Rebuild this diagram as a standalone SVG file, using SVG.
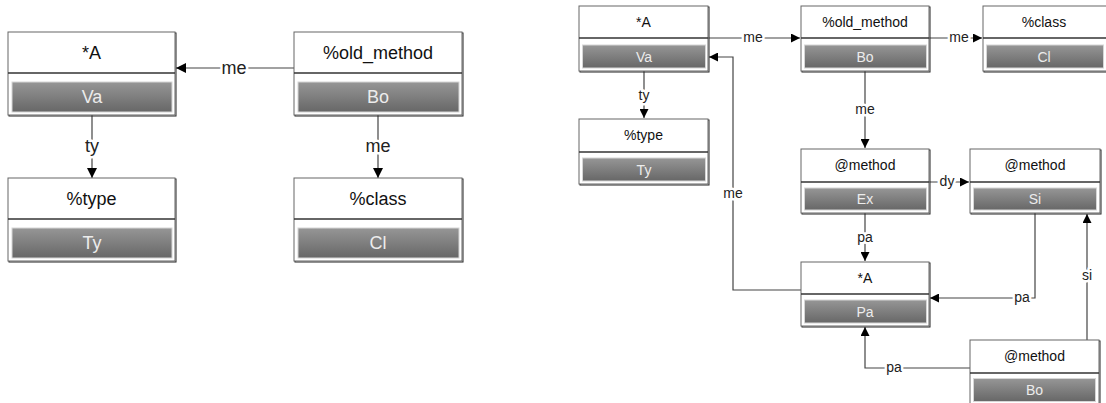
<svg xmlns="http://www.w3.org/2000/svg" width="1106" height="403" viewBox="0 0 1106 403">
<defs>
<linearGradient id="g" x1="0" y1="0" x2="0" y2="1">
<stop offset="0" stop-color="#969696"/>
<stop offset="1" stop-color="#676767"/>
</linearGradient>
<marker id="ah" viewBox="0 0 10 10" refX="10" refY="5" markerWidth="10" markerHeight="10" markerUnits="userSpaceOnUse" orient="auto">
<path d="M0,0 L10,5 L0,10 z" fill="#000"/>
</marker>
<marker id="ahs" viewBox="0 0 10 10" refX="10" refY="5" markerWidth="9" markerHeight="9" markerUnits="userSpaceOnUse" orient="auto">
<path d="M0,0 L10,5 L0,10 z" fill="#000"/>
</marker>
</defs>
<style>
.shadow{fill:none;stroke:#222;stroke-width:1}
.box{fill:#fff;stroke:#666;stroke-width:1}
.div{stroke:#333;stroke-width:1.5}
.bar{fill:url(#g);stroke:#d6d6d6;stroke-width:1}
.t{font-family:"Liberation Sans",Arial,sans-serif;fill:#111;text-anchor:middle;dominant-baseline:central}
.v{font-family:"Liberation Sans",Arial,sans-serif;fill:#ececec;text-anchor:middle;dominant-baseline:central}
.big{font-size:18px}
.sm{font-size:14px}
.c{fill:none;stroke:#444;stroke-width:1.2}
.lb{font-family:"Liberation Sans",Arial,sans-serif;fill:#222;text-anchor:middle;dominant-baseline:central;stroke:#fff;stroke-width:5;paint-order:stroke;stroke-linejoin:round}
</style>

<g id="connectors">
<path class="c" d="M294,68 H176" marker-end="url(#ah)"/>
<text class="lb big" x="234" y="68">me</text>
<path class="c" d="M92,115 V178" marker-end="url(#ah)"/>
<text class="lb big" x="92" y="146">ty</text>
<path class="c" d="M378,115 V178" marker-end="url(#ah)"/>
<text class="lb big" x="378" y="146">me</text>

<path class="c" d="M708,38 H800" marker-end="url(#ahs)"/>
<text class="lb sm" x="753" y="37">me</text>
<path class="c" d="M929,38 H982" marker-end="url(#ahs)"/>
<text class="lb sm" x="959" y="37">me</text>
<path class="c" d="M865,71 V148" marker-end="url(#ahs)"/>
<text class="lb sm" x="865" y="109">me</text>
<path class="c" d="M644,71 V118" marker-end="url(#ahs)"/>
<text class="lb sm" x="644" y="95">ty</text>
<path class="c" d="M801,290 H733 V57 H709" marker-end="url(#ahs)"/>
<text class="lb sm" x="733" y="193">me</text>
<path class="c" d="M929,182 H969" marker-end="url(#ahs)"/>
<text class="lb sm" x="947" y="181">dy</text>
<path class="c" d="M865,213 V261" marker-end="url(#ahs)"/>
<text class="lb sm" x="865" y="237">pa</text>
<path class="c" d="M1035,213 V298 H930" marker-end="url(#ahs)"/>
<text class="lb sm" x="1022" y="297">pa</text>
<path class="c" d="M970,368 H865 V327" marker-end="url(#ahs)"/>
<text class="lb sm" x="894" y="367">pa</text>
<path class="c" d="M1087,340 V214" marker-end="url(#ahs)"/>
<text class="lb sm" x="1087" y="275">si</text>
</g>

<g id="n-a-va">
<rect class="shadow" x="9" y="33" width="167" height="83"/>
<rect class="box" x="8" y="32" width="167" height="83"/>
<line class="div" x1="8" y1="73" x2="175" y2="73"/>
<rect class="bar" x="12" y="82" width="160" height="30"/>
<text class="t big" x="91.5" y="53">*A</text>
<text class="v big" x="92" y="97">Va</text>
</g>
<g id="n-old-bo">
<rect class="shadow" x="295" y="33" width="168" height="83"/>
<rect class="box" x="294" y="32" width="168" height="83"/>
<line class="div" x1="294" y1="73" x2="462" y2="73"/>
<rect class="bar" x="298" y="82" width="161" height="30"/>
<text class="t big" x="378" y="53">%old_method</text>
<text class="v big" x="378" y="97">Bo</text>
</g>
<g id="n-type-ty">
<rect class="shadow" x="9" y="179" width="167" height="83"/>
<rect class="box" x="8" y="178" width="167" height="83"/>
<line class="div" x1="8" y1="219" x2="175" y2="219"/>
<rect class="bar" x="12" y="228" width="160" height="30"/>
<text class="t big" x="91.5" y="199">%type</text>
<text class="v big" x="92" y="243">Ty</text>
</g>
<g id="n-class-cl">
<rect class="shadow" x="295" y="179" width="168" height="83"/>
<rect class="box" x="294" y="178" width="168" height="83"/>
<line class="div" x1="294" y1="219" x2="462" y2="219"/>
<rect class="bar" x="298" y="228" width="161" height="30"/>
<text class="t big" x="378" y="199">%class</text>
<text class="v big" x="378" y="243">Cl</text>
</g>

<g id="r-a-va">
<rect class="shadow" x="580" y="7" width="129" height="65"/>
<rect class="box" x="579" y="6" width="129" height="65"/>
<line class="div" x1="579" y1="38" x2="708" y2="38"/>
<rect class="bar" x="582.5" y="45" width="123" height="23"/>
<text class="t sm" x="643.5" y="22">*A</text>
<text class="v sm" x="644" y="56.5">Va</text>
</g>
<g id="r-old-bo">
<rect class="shadow" x="802" y="7" width="128" height="65"/>
<rect class="box" x="801" y="6" width="128" height="65"/>
<line class="div" x1="801" y1="38" x2="929" y2="38"/>
<rect class="bar" x="804.5" y="45" width="122" height="23"/>
<text class="t sm" x="865" y="22">%old_method</text>
<text class="v sm" x="865" y="56.5">Bo</text>
</g>
<g id="r-class-cl">
<rect class="shadow" x="984" y="7" width="129" height="65"/>
<rect class="box" x="983" y="6" width="129" height="65"/>
<line class="div" x1="983" y1="38" x2="1112" y2="38"/>
<rect class="bar" x="986.5" y="45" width="117" height="23"/>
<text class="t sm" x="1044" y="22">%class</text>
<text class="v sm" x="1044" y="56.5">Cl</text>
</g>
<g id="r-type-ty">
<rect class="shadow" x="580" y="120" width="129" height="65"/>
<rect class="box" x="579" y="119" width="129" height="65"/>
<line class="div" x1="579" y1="152" x2="708" y2="152"/>
<rect class="bar" x="582.5" y="158" width="123" height="23"/>
<text class="t sm" x="643.5" y="135">%type</text>
<text class="v sm" x="644" y="169.5">Ty</text>
</g>
<g id="r-method-ex">
<rect class="shadow" x="802" y="150" width="128" height="64"/>
<rect class="box" x="801" y="149" width="128" height="64"/>
<line class="div" x1="801" y1="182" x2="929" y2="182"/>
<rect class="bar" x="804.5" y="188" width="122" height="22"/>
<text class="t sm" x="865" y="165">@method</text>
<text class="v sm" x="865" y="199">Ex</text>
</g>
<g id="r-method-si">
<rect class="shadow" x="971" y="150" width="130" height="64"/>
<rect class="box" x="970" y="149" width="130" height="64"/>
<line class="div" x1="970" y1="182" x2="1100" y2="182"/>
<rect class="bar" x="973.5" y="188" width="123" height="22"/>
<text class="t sm" x="1035" y="165">@method</text>
<text class="v sm" x="1035" y="199">Si</text>
</g>
<g id="r-a-pa">
<rect class="shadow" x="802" y="263" width="128" height="64"/>
<rect class="box" x="801" y="262" width="128" height="64"/>
<line class="div" x1="801" y1="294" x2="929" y2="294"/>
<rect class="bar" x="804.5" y="300" width="122" height="23"/>
<text class="t sm" x="865" y="278">*A</text>
<text class="v sm" x="865" y="311.5">Pa</text>
</g>
<g id="r-method-bo">
<rect class="shadow" x="971" y="341" width="129" height="65"/>
<rect class="box" x="970" y="340" width="129" height="65"/>
<line class="div" x1="970" y1="373" x2="1099" y2="373"/>
<rect class="bar" x="973.5" y="378.5" width="122" height="23"/>
<text class="t sm" x="1034.5" y="356">@method</text>
<text class="v sm" x="1034.5" y="390">Bo</text>
</g>
</svg>
